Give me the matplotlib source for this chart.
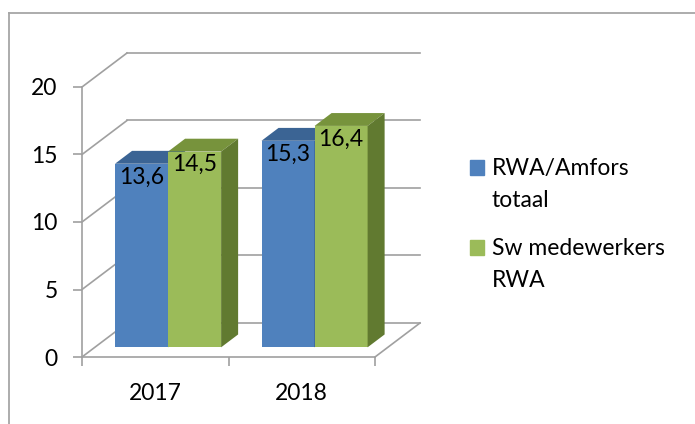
import matplotlib.pyplot as plt
from matplotlib.patches import Polygon, Rectangle
from matplotlib.lines import Line2D

plt.rcParams['font.family'] = ['Lato', 'DejaVu Sans']

years = ['2017', '2018']
series_names = ['RWA/Amfors\ntotaal', 'Sw medewerkers\nRWA']
rwa_totaal = [13.6, 15.3]
sw_medewerkers = [14.5, 16.4]
series_values = [rwa_totaal, sw_medewerkers]
yticks = [0, 5, 10, 15, 20]

front_colors = ['#4F81BD', '#9BBB59']
top_colors = ['#3B6494', '#77933C']
side_colors = ['#2F5080', '#617A30']
grid_col = '#A0A0A0'
fs = 16.5

W, H = 695, 424
fig = plt.figure(figsize=(W / 100, H / 100), dpi=100)

# front plane of the 3d box, in pixels: x 82..375, y 357..87
ax = fig.add_axes([82 / W, 1 - 357 / H, 293 / W, 270 / H])
ax.set_xlim(0, 2)
ax.set_ylim(0, 20)

# depth of the box in data units
DX = 45 / 146.5
DY = 34 / 13.5
f0, f1 = 0.285, 0.663
bw = 0.362

for s in ['top', 'right']:
    ax.spines[s].set_visible(False)
for s in ['left', 'bottom']:
    ax.spines[s].set_color(grid_col)
    ax.spines[s].set_linewidth(1.2)

ax.set_yticks(yticks)
ax.set_yticklabels([str(v) for v in yticks])
ax.tick_params(axis='y', length=6.5, width=1.2, color=grid_col, labelsize=fs, pad=11)
ax.set_xticks([0, 1, 2])
ax.set_xticklabels(['', '', ''])
ax.set_xticks([0.5, 1.5], minor=True)
ax.set_xticklabels(years, minor=True)
ax.tick_params(axis='x', which='major', length=6.5, width=1.2, color=grid_col)
ax.tick_params(axis='x', which='minor', length=0, labelsize=fs, pad=19)

# walls: side and back gridlines
for v in yticks:
    ax.plot([0, DX], [v, v + DY], color=grid_col, lw=1.2, clip_on=False, zorder=1)
    ax.plot([DX, 2 + DX], [v + DY, v + DY], color=grid_col, lw=1.2, clip_on=False, zorder=1)
ax.plot([2, 2 + DX], [0, DY], color=grid_col, lw=1.2, clip_on=False, zorder=1)

# bars
z = 3
for i in range(len(years)):
    for j, vals in enumerate(series_values):
        h = vals[i]
        x0 = i + 0.5 - bw + j * bw + f0 * DX
        y0 = f0 * DY
        ddx, ddy = (f1 - f0) * DX, (f1 - f0) * DY
        ax.bar(x0, h, width=bw, bottom=y0, align='edge', color=front_colors[j],
               zorder=z, clip_on=False, linewidth=0)
        top = Polygon([(x0, y0 + h), (x0 + bw, y0 + h), (x0 + bw + ddx, y0 + h + ddy),
                       (x0 + ddx, y0 + h + ddy)], closed=True, color=top_colors[j],
                      zorder=z, clip_on=False, linewidth=0)
        side = Polygon([(x0 + bw, y0), (x0 + bw, y0 + h), (x0 + bw + ddx, y0 + h + ddy),
                        (x0 + bw + ddx, y0 + ddy)], closed=True, color=side_colors[j],
                       zorder=z, clip_on=False, linewidth=0)
        ax.add_patch(top)
        ax.add_patch(side)
        ax.annotate(f'{h:.1f}'.replace('.', ','), (x0 + bw / 2, y0 + h),
                    xytext=(0, -2), textcoords='offset points', ha='center', va='top',
                    fontsize=fs, zorder=z + 1, annotation_clip=False)
        z += 2

# legend
leg_sq = [(470, 160), (470, 240)]
for j, name in enumerate(series_names):
    sx, sy = leg_sq[j]
    fig.add_artist(Rectangle((sx / W, 1 - (sy + 15) / H), 14 / W, 15 / H,
                             transform=fig.transFigure, color=front_colors[j]))
    for k, line in enumerate(name.split('\n')):
        fig.text(492 / W, 1 - (sy + 15 + k * 32) / H, line, fontsize=fs,
                 ha='left', va='baseline')

# outer frame (only top and left visible)
fig.add_artist(Line2D([9 / W, 1], [1 - 13 / H, 1 - 13 / H], color='#A6A6A6', lw=1.3,
                      transform=fig.transFigure))
fig.add_artist(Line2D([9 / W, 9 / W], [1 - 13 / H, 0], color='#A6A6A6', lw=1.3,
                      transform=fig.transFigure))

fig.savefig('out.png', dpi=100, facecolor='white')
